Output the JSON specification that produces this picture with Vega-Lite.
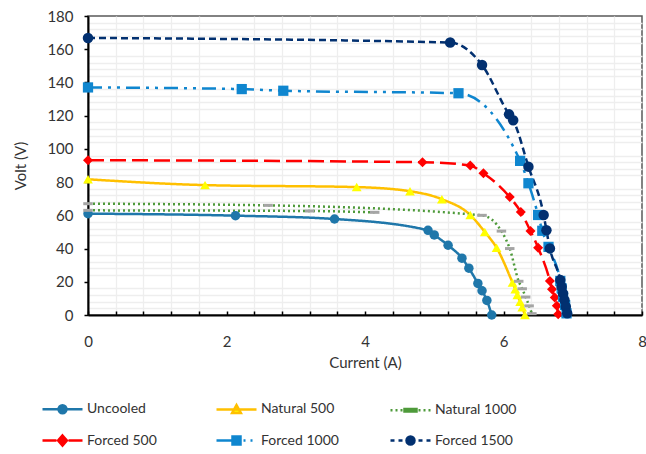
{
  "$schema": "https://vega.github.io/schema/vega-lite/v6.json",
  "width": 554,
  "height": 299,
  "autosize": {"type": "none"},
  "padding": {"left": 88, "top": 16, "right": 4, "bottom": 139},
  "background": "white",
  "config": {
    "font": "Lato",
    "view": {"stroke": "#595959", "strokeWidth": 1.5},
    "axis": {"labelFont": "Lato", "titleFont": "Lato", "labelColor": "#333", "titleColor": "#333", "titleFontWeight": "normal", "labelOverlap": false},
    "legend": {
      "title": null,
      "orient": "none",
      "direction": "horizontal",
      "legendX": -47,
      "legendY": 371,
      "columns": 3,
      "gridAlign": "all",
      "columnPadding": 42,
      "rowPadding": -7,
      "symbolSize": 1600,
      "symbolStrokeWidth": 2.5,
      "symbolOpacity": 1,
      "symbolFillColor": "#888888",
      "symbolStrokeColor": "#888888",
      "labelFont": "Lato",
      "labelFontSize": 14,
      "labelColor": "#333",
      "labelOffset": 3
    }
  },
  "data": {
    "values": [
      {"s": "Uncooled", "p": "a", "x": 0, "y": 61},
      {"s": "Uncooled", "p": "a", "x": 2.13, "y": 59.8},
      {"s": "Uncooled", "p": "a", "x": 3.56, "y": 57.8},
      {"s": "Uncooled", "p": "a", "x": 4.91, "y": 51},
      {"s": "Uncooled", "p": "a", "x": 5.0, "y": 48.2},
      {"s": "Uncooled", "p": "a", "x": 5.2, "y": 42},
      {"s": "Uncooled", "p": "a", "x": 5.4, "y": 34.2},
      {"s": "Uncooled", "p": "a", "x": 5.5, "y": 28.2},
      {"s": "Uncooled", "p": "a", "x": 5.63, "y": 19},
      {"s": "Uncooled", "p": "a", "x": 5.69, "y": 14.6},
      {"s": "Uncooled", "p": "a", "x": 5.76, "y": 8.8},
      {"s": "Uncooled", "p": "a", "x": 5.83, "y": 0},
      {"s": "Natural 500", "p": "a", "x": 0, "y": 81.7},
      {"s": "Natural 500", "p": "a", "x": 1.69, "y": 78.2},
      {"s": "Natural 500", "p": "a", "x": 3.88, "y": 77},
      {"s": "Natural 500", "p": "a", "x": 4.65, "y": 74.5},
      {"s": "Natural 500", "p": "a", "x": 5.11, "y": 69.7},
      {"s": "Natural 500", "p": "a", "x": 5.52, "y": 60.2},
      {"s": "Natural 500", "p": "a", "x": 5.73, "y": 50},
      {"s": "Natural 500", "p": "a", "x": 5.9, "y": 40.5},
      {"s": "Natural 500", "p": "a", "x": 6.13, "y": 19.5},
      {"s": "Natural 500", "p": "a", "x": 6.17, "y": 15.5},
      {"s": "Natural 500", "p": "a", "x": 6.2, "y": 12},
      {"s": "Natural 500", "p": "a", "x": 6.24, "y": 8},
      {"s": "Natural 500", "p": "a", "x": 6.27, "y": 4.6},
      {"s": "Natural 500", "p": "a", "x": 6.31, "y": 0},
      {"s": "Natural 1000", "p": "a", "x": 0, "y": 67},
      {"s": "Natural 1000", "p": "a", "x": 2.6, "y": 66},
      {"s": "Natural 1000", "p": "a", "x": 5.69, "y": 60},
      {"s": "Natural 1000", "p": "a", "x": 5.97, "y": 50.5},
      {"s": "Natural 1000", "p": "a", "x": 6.09, "y": 40},
      {"s": "Natural 1000", "p": "a", "x": 6.22, "y": 20.3},
      {"s": "Natural 1000", "p": "a", "x": 6.27, "y": 15.8},
      {"s": "Natural 1000", "p": "a", "x": 6.32, "y": 10.8},
      {"s": "Natural 1000", "p": "a", "x": 6.37, "y": 5.5},
      {"s": "Natural 1000", "p": "a", "x": 6.41, "y": 0.8},
      {"s": "Natural 1000", "p": "b", "x": 0, "y": 63},
      {"s": "Natural 1000", "p": "b", "x": 3.2, "y": 62.6},
      {"s": "Natural 1000", "p": "b", "x": 4.14, "y": 61.8},
      {"s": "Forced 500", "p": "a", "x": 0, "y": 93.2},
      {"s": "Forced 500", "p": "a", "x": 4.83, "y": 92},
      {"s": "Forced 500", "p": "a", "x": 5.52, "y": 90},
      {"s": "Forced 500", "p": "a", "x": 5.71, "y": 85.3},
      {"s": "Forced 500", "p": "a", "x": 6.09, "y": 71},
      {"s": "Forced 500", "p": "a", "x": 6.25, "y": 62},
      {"s": "Forced 500", "p": "a", "x": 6.39, "y": 50.5},
      {"s": "Forced 500", "p": "a", "x": 6.5, "y": 40.5},
      {"s": "Forced 500", "p": "a", "x": 6.67, "y": 20.5},
      {"s": "Forced 500", "p": "a", "x": 6.7, "y": 15.5},
      {"s": "Forced 500", "p": "a", "x": 6.74, "y": 10.5},
      {"s": "Forced 500", "p": "a", "x": 6.77, "y": 5.5},
      {"s": "Forced 500", "p": "a", "x": 6.79, "y": 0.5},
      {"s": "Forced 1000", "p": "a", "x": 0, "y": 137},
      {"s": "Forced 1000", "p": "a", "x": 2.22, "y": 136},
      {"s": "Forced 1000", "p": "a", "x": 2.82, "y": 135},
      {"s": "Forced 1000", "p": "a", "x": 5.35, "y": 133.5},
      {"s": "Forced 1000", "p": "a", "x": 6.24, "y": 92.8},
      {"s": "Forced 1000", "p": "a", "x": 6.36, "y": 79.3},
      {"s": "Forced 1000", "p": "a", "x": 6.5, "y": 60.2},
      {"s": "Forced 1000", "p": "a", "x": 6.56, "y": 50.7},
      {"s": "Forced 1000", "p": "a", "x": 6.65, "y": 41},
      {"s": "Forced 1000", "p": "a", "x": 6.82, "y": 20.5},
      {"s": "Forced 1000", "p": "a", "x": 6.84, "y": 16},
      {"s": "Forced 1000", "p": "a", "x": 6.86, "y": 11},
      {"s": "Forced 1000", "p": "a", "x": 6.89, "y": 6},
      {"s": "Forced 1000", "p": "a", "x": 6.91, "y": 1},
      {"s": "Forced 1500", "p": "a", "x": 0, "y": 166.8},
      {"s": "Forced 1500", "p": "a", "x": 5.23, "y": 164},
      {"s": "Forced 1500", "p": "a", "x": 5.69, "y": 150.5},
      {"s": "Forced 1500", "p": "a", "x": 6.08, "y": 120.8},
      {"s": "Forced 1500", "p": "a", "x": 6.14, "y": 117.2},
      {"s": "Forced 1500", "p": "a", "x": 6.36, "y": 89.3},
      {"s": "Forced 1500", "p": "a", "x": 6.58, "y": 60.2},
      {"s": "Forced 1500", "p": "a", "x": 6.62, "y": 51},
      {"s": "Forced 1500", "p": "a", "x": 6.67, "y": 40.1},
      {"s": "Forced 1500", "p": "a", "x": 6.82, "y": 21},
      {"s": "Forced 1500", "p": "a", "x": 6.84, "y": 17},
      {"s": "Forced 1500", "p": "a", "x": 6.86, "y": 13},
      {"s": "Forced 1500", "p": "a", "x": 6.88, "y": 9},
      {"s": "Forced 1500", "p": "a", "x": 6.9, "y": 5},
      {"s": "Forced 1500", "p": "a", "x": 6.92, "y": 1}
    ]
  },
  "resolve": {
    "scale": {"shape": "independent"},
    "legend": {"shape": "independent", "fill": "independent", "stroke": "independent"},
    "axis": {"x": "independent", "y": "independent"}
  },
  "layer": [
    {
      "mark": {"type": "point", "opacity": 0},
      "encoding": {
        "x": {
          "field": "x", "type": "quantitative",
          "scale": {"domain": [0, 8], "nice": false, "zero": false},
          "axis": {
            "orient": "bottom", "title": null, "labels": false, "domain": false,
            "values": [0.4,0.8,1.2,1.6,2.4,2.8,3.2,3.6,4.4,4.8,5.2,5.6,6.4,6.8,7.2,7.6],
            "tickColor": "#000", "tickWidth": 1.5, "tickSize": -4,
            "gridColor": "#eeeeee", "gridWidth": 1.3
          }
        },
        "y": {
          "field": "y", "type": "quantitative",
          "scale": {"domain": [0, 180], "nice": false},
          "axis": {
            "orient": "left", "title": null, "labels": false, "domain": false, "ticks": false,
            "values": [4,8,12,16,24,28,32,36,44,48,52,56,64,68,72,76,84,88,92,96,104,108,112,116,124,128,132,136,144,148,152,156,164,168,172,176],
            "gridColor": "#eeeeee", "gridWidth": 1.3
          }
        }
      }
    },
    {
      "mark": {"type": "line", "interpolate": "monotone", "strokeWidth": 2.5},
      "encoding": {
        "x": {
          "field": "x", "type": "quantitative",
          "axis": {
            "orient": "bottom",
            "title": "Current (A)", "titleFontSize": 15, "titlePadding": 6,
            "values": [0, 2, 4, 6, 8],
            "labelFontSize": 15, "labelPadding": 23, "labelFlush": false,
            "domainColor": "#000", "domainWidth": 2,
            "tickColor": "#000", "tickWidth": 1.5, "tickSize": -4,
            "gridColor": "#d9d9d9", "gridWidth": 1.3
          }
        },
        "y": {
          "field": "y", "type": "quantitative",
          "axis": {
            "orient": "left",
            "title": "Volt (V)", "titleFontSize": 15, "titlePadding": 18,
            "values": [0, 20, 40, 60, 80, 100, 120, 140, 160, 180],
            "labelFontSize": 15, "labelPadding": 11, "labelFlush": false,
            "domainColor": "#000", "domainWidth": 2,
            "tickColor": "#000", "tickWidth": 1.5, "tickSize": 4,
            "gridColor": "#d9d9d9", "gridWidth": 1.3
          }
        },
        "stroke": {
          "field": "s", "type": "nominal", "legend": null,
          "scale": {
            "domain": ["Uncooled", "Natural 500", "Natural 1000", "Forced 500", "Forced 1000", "Forced 1500"],
            "range": ["#1F77AA", "#FFC000", "#4E9A3A", "#FF0000", "#0F86CF", "#023070"]
          }
        },
        "strokeDash": {
          "field": "s", "type": "nominal", "legend": null,
          "scale": {
            "domain": ["Uncooled", "Natural 500", "Natural 1000", "Forced 500", "Forced 1000", "Forced 1500"],
            "range": [[1, 0], [1, 0], [2, 3], [16, 6], [14, 6, 3, 6, 3, 6], [7, 4]]
          }
        },
        "detail": {"field": "p", "type": "nominal"}
      }
    },
    {
      "transform": [{"filter": "datum.s != 'Natural 1000'"}],
      "mark": {"type": "point", "filled": true, "opacity": 1},
      "encoding": {
        "x": {"field": "x", "type": "quantitative", "axis": null},
        "y": {"field": "y", "type": "quantitative", "axis": null},
        "fill": {
          "field": "s", "type": "nominal", "legend": null,
          "scale": {
            "domain": ["Uncooled", "Natural 500", "Natural 1000", "Forced 500", "Forced 1000", "Forced 1500"],
            "range": ["#1F77AA", "#FFFF00", "#A5A5A5", "#FF0000", "#0F86CF", "#023070"]
          }
        },
        "shape": {
          "field": "s", "type": "nominal", "legend": null,
          "scale": {
            "domain": ["Uncooled", "Natural 500", "Forced 500", "Forced 1000", "Forced 1500"],
            "range": ["circle", "triangle-up", "diamond", "square", "circle"]
          }
        },
        "size": {
          "field": "s", "type": "nominal", "legend": null,
          "scale": {
            "domain": ["Uncooled", "Natural 500", "Forced 500", "Forced 1000", "Forced 1500"],
            "range": [90, 110, 85, 110, 90]
          }
        }
      }
    },
    {
      "transform": [{"filter": "datum.s == 'Natural 1000'"}],
      "mark": {"type": "point", "shape": "stroke", "stroke": "#A5A5A5", "strokeWidth": 3, "size": 90, "opacity": 1},
      "encoding": {
        "x": {"field": "x", "type": "quantitative", "axis": null},
        "y": {"field": "y", "type": "quantitative", "axis": null}
      }
    },
    {
      "transform": [{"filter": "datum.x < 0"}],
      "mark": {"type": "point", "filled": true},
      "encoding": {
        "x": {"field": "x", "type": "quantitative", "axis": null},
        "y": {"field": "y", "type": "quantitative", "axis": null},
        "fill": {
          "field": "s", "type": "nominal",
          "scale": {"domain": ["Uncooled", "Natural 500", "Natural 1000", "Forced 500", "Forced 1000", "Forced 1500"]},
          "legend": {"title": null}
        },
        "stroke": {
          "field": "s", "type": "nominal",
          "scale": {"domain": ["Uncooled", "Natural 500", "Natural 1000", "Forced 500", "Forced 1000", "Forced 1500"]},
          "legend": {"title": null}
        },
        "shape": {
          "field": "s", "type": "nominal",
          "scale": {
            "domain": ["Uncooled", "Natural 500", "Natural 1000", "Forced 500", "Forced 1000", "Forced 1500"],
            "range": [
              "M-1,0H1M-0.2,0A0.2,0.2,0,1,0,0.2,0A0.2,0.2,0,1,0,-0.2,0Z",
              "M-1,0H1M0,-0.22L0.22,0.18L-0.22,0.18Z",
              "M-1,0H-0.9M-0.75,0H-0.65M-0.5,0H-0.4M-0.3,-0.06H0.3V0.06H-0.3ZM0.4,0H0.5M0.65,0H0.75M0.9,0H1",
              "M-1,0H-0.3M0.3,0H1M0,-0.25L0.22,0L0,0.25L-0.22,0Z",
              "M-1,0H-0.2M-0.2,-0.2H0.2V0.2H-0.2ZM0.35,0H0.45M0.7,0H0.8",
              "M-1,0H-0.8M-0.6,0H-0.4M-0.2,0A0.2,0.2,0,1,0,0.2,0A0.2,0.2,0,1,0,-0.2,0ZM0.4,0H0.6M0.8,0H1"
            ]
          },
          "legend": {"title": null}
        }
      }
    }
  ]
}
